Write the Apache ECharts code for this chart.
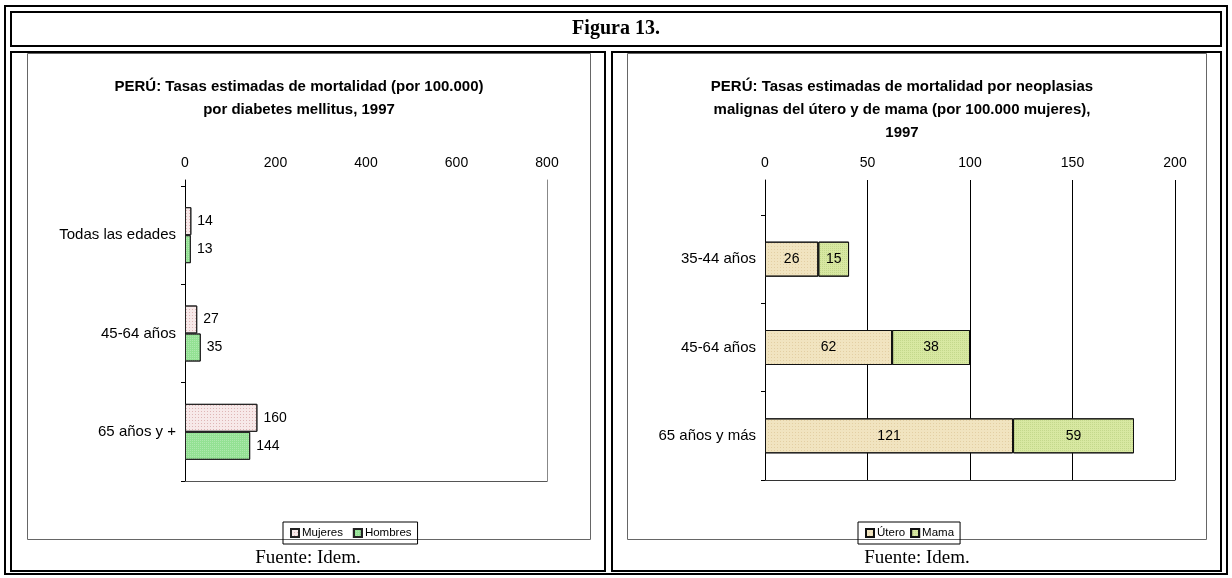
<!DOCTYPE html>
<html>
<head>
<meta charset="utf-8">
<script src="https://cdn.jsdelivr.net/npm/echarts@6/dist/echarts.min.js"></script>
<style>
  html, body { margin: 0; padding: 0; background: #fff; }
  #fig { width: 1232px; height: 578px; }
</style>
</head>
<body>
<div id="fig"></div>
<script>
// Diabetes mellitus mortality by age group (per 100,000)
const diabCategories = ['Todas las edades', '45-64 años', '65 años y +'];
const mujeres = [14, 27, 160];
const hombres = [13, 35, 144];
const diabTicks = [0, 200, 400, 600, 800];

// Uterine and breast cancer mortality by age group (per 100,000 women)
const cancerCategories = ['35-44 años', '45-64 años', '65 años y más'];
const utero = [26, 62, 121];
const mama = [15, 38, 59];
const cancerTicks = [0, 50, 100, 150, 200];

const SANS = '"Liberation Sans", Arial, sans-serif';
const SERIF = '"Liberation Serif", "Times New Roman", serif';
const num = { fontFamily: SANS, fontSize: 14, color: '#000' };
const cat = { fontFamily: SANS, fontSize: 15, color: '#000' };

const chart = echarts.init(document.getElementById('fig'), null, { renderer: 'canvas' });

function tickRange(ticks) {
  return { min: ticks[0], max: ticks[ticks.length - 1], interval: ticks[1] - ticks[0] };
}

const H = 578, W = 1232;
// plot rectangles: x extent, top of axis frame, top of bar band area, bottom
const L = { x0: 185, x1: 547, lineTop: 180, barTop: 186, bottom: 481 };
const R = { x0: 765, x1: 1175, lineTop: 180, barTop: 215, bottom: 480 };

function gridOf(p, top) {
  return { left: p.x0, right: W - p.x1, top: top, bottom: H - p.bottom, containLabel: false };
}

const titleStyle = { fontFamily: SANS, fontWeight: 'bold', fontSize: 15, lineHeight: 23, color: '#000' };
const footStyle = { fontFamily: SERIF, fontWeight: 'normal', fontSize: 19, color: '#000' };

function legendOf(names, left, gap) {
  return {
    data: names, left: left, top: 522, orient: 'horizontal',
    borderColor: '#000', borderWidth: 1, padding: [5, 6, 5, 7], itemGap: gap,
    itemWidth: 8, itemHeight: 8, icon: 'rect',
    textStyle: { fontFamily: SANS, fontSize: 11.5, color: '#000', padding: [0, 0, 0, -2] }
  };
}

const option = {
  animation: false,
  backgroundColor: '#fff',
  title: [
    { text: 'Figura 13.', left: 616, top: 19, textAlign: 'center', padding: 0,
      textStyle: { fontFamily: SERIF, fontWeight: 'bold', fontSize: 20, color: '#000' } },
    { text: 'PERÚ: Tasas estimadas de mortalidad (por 100.000)\npor diabetes mellitus, 1997',
      left: 299, top: 75, textAlign: 'center', padding: 0, textStyle: titleStyle },
    { text: 'PERÚ: Tasas estimadas de mortalidad por neoplasias\nmalignas del útero y de mama (por 100.000 mujeres),\n1997',
      left: 902, top: 75, textAlign: 'center', padding: 0, textStyle: titleStyle },
    { text: 'Fuente: Idem.', left: 308, top: 549, textAlign: 'center', padding: 0, textStyle: footStyle },
    { text: 'Fuente: Idem.', left: 917, top: 549, textAlign: 'center', padding: 0, textStyle: footStyle }
  ],
  legend: [
    legendOf(['Mujeres', 'Hombres'], 283, 10),
    legendOf(['Útero', 'Mama'], 858, 5)
  ],
  grid: [
    gridOf(L, L.lineTop),   // 0: diabetes axis frame
    gridOf(L, L.barTop),    // 1: diabetes bars
    gridOf(R, R.lineTop),   // 2: cancer axis frame + gridlines
    gridOf(R, R.barTop)     // 3: cancer bars
  ],
  xAxis: [
    Object.assign({ gridIndex: 0, type: 'value', position: 'top',
      axisLine: { show: false }, axisTick: { show: false },
      axisLabel: Object.assign({ margin: 10 }, num), splitLine: { show: false } }, tickRange(diabTicks)),
    Object.assign({ gridIndex: 0, type: 'value', position: 'bottom',
      axisLine: { show: true, onZero: false, lineStyle: { color: '#555', width: 1 } }, axisTick: { show: false },
      axisLabel: { show: false }, splitLine: { show: false } }, tickRange(diabTicks)),
    Object.assign({ gridIndex: 1, type: 'value', show: false }, tickRange(diabTicks)),
    Object.assign({ gridIndex: 2, type: 'value', position: 'top',
      axisLine: { show: false }, axisTick: { show: false },
      axisLabel: Object.assign({ margin: 10 }, num),
      splitLine: { show: true, lineStyle: { color: '#000', width: 1 } } }, tickRange(cancerTicks)),
    Object.assign({ gridIndex: 2, type: 'value', position: 'bottom',
      axisLine: { show: true, onZero: false, lineStyle: { color: '#333', width: 1 } }, axisTick: { show: false },
      axisLabel: { show: false }, splitLine: { show: false } }, tickRange(cancerTicks)),
    Object.assign({ gridIndex: 3, type: 'value', show: false }, tickRange(cancerTicks))
  ],
  yAxis: [
    { gridIndex: 0, type: 'value', position: 'left', min: 0, max: 1,
      axisLine: { show: true, onZero: false, lineStyle: { color: '#000', width: 1 } },
      axisTick: { show: false }, axisLabel: { show: false }, splitLine: { show: false } },
    { gridIndex: 0, type: 'value', position: 'right', min: 0, max: 1,
      axisLine: { show: true, onZero: false, lineStyle: { color: '#888', width: 1 } },
      axisTick: { show: false }, axisLabel: { show: false }, splitLine: { show: false } },
    { gridIndex: 1, type: 'category', data: diabCategories, inverse: true,
      axisLine: { show: true, lineStyle: { color: '#000', width: 1 } },
      axisTick: { show: true, length: 4, inside: false, lineStyle: { color: '#000' } },
      axisLabel: Object.assign({ margin: 9 }, cat) },
    { gridIndex: 2, type: 'value', position: 'left', min: 0, max: 1,
      axisLine: { show: true, onZero: false, lineStyle: { color: '#000', width: 1 } },
      axisTick: { show: false }, axisLabel: { show: false }, splitLine: { show: false } },
    { gridIndex: 3, type: 'category', data: cancerCategories, inverse: true,
      axisLine: { show: true, lineStyle: { color: '#000', width: 1 } },
      axisTick: { show: true, length: 4, inside: false, lineStyle: { color: '#000' } },
      axisLabel: Object.assign({ margin: 9 }, cat) }
  ],
  series: [
    { name: 'Mujeres', type: 'bar', xAxisIndex: 2, yAxisIndex: 2, data: mujeres,
      barWidth: 28, barGap: '0%',
      itemStyle: { color: '#f7e9e9', borderColor: '#222', borderWidth: 1,
        decal: { symbol: 'rect', symbolSize: 1, dashArrayX: [1, 2], dashArrayY: [1, 2], color: 'rgba(190,120,120,0.45)' } },
      label: Object.assign({ show: true, position: 'right', distance: 6 }, num) },
    { name: 'Hombres', type: 'bar', xAxisIndex: 2, yAxisIndex: 2, data: hombres,
      barWidth: 28, barGap: '0%',
      itemStyle: { color: '#93e193', borderColor: '#222', borderWidth: 1,
        decal: { symbol: 'rect', symbolSize: 1, dashArrayX: [1, 1], dashArrayY: [1, 1], color: 'rgba(255,255,255,0.25)' } },
      label: Object.assign({ show: true, position: 'right', distance: 6 }, num) },
    { name: 'Útero', type: 'bar', xAxisIndex: 5, yAxisIndex: 4, data: utero, stack: 'c',
      barWidth: 35,
      itemStyle: { color: '#f1e4c0', borderColor: '#111', borderWidth: 1,
        decal: { symbol: 'rect', symbolSize: 1, dashArrayX: [1, 2], dashArrayY: [1, 2], color: 'rgba(200,170,110,0.35)' } },
      label: Object.assign({ show: true, position: 'inside' }, num) },
    { name: 'Mama', type: 'bar', xAxisIndex: 5, yAxisIndex: 4, data: mama, stack: 'c',
      barWidth: 35,
      itemStyle: { color: '#d8e8a2', borderColor: '#111', borderWidth: 1,
        decal: { symbol: 'rect', symbolSize: 1, dashArrayX: [1, 1], dashArrayY: [1, 1], color: 'rgba(150,180,90,0.3)' } },
      label: Object.assign({ show: true, position: 'inside' }, num) }
  ],
  graphic: [
    // outer table border and cells
    { type: 'rect', silent: true, shape: { x: 5, y: 6, width: 1222, height: 568 },
      style: { fill: 'none', stroke: '#000', lineWidth: 2 } },
    { type: 'rect', silent: true, shape: { x: 11, y: 12, width: 1210, height: 34 },
      style: { fill: 'none', stroke: '#000', lineWidth: 2 } },
    { type: 'rect', silent: true, shape: { x: 11, y: 52, width: 594, height: 519 },
      style: { fill: 'none', stroke: '#000', lineWidth: 2 } },
    { type: 'rect', silent: true, shape: { x: 612, y: 52, width: 609, height: 519 },
      style: { fill: 'none', stroke: '#000', lineWidth: 2 } },
    // chart area frames
    { type: 'rect', silent: true, shape: { x: 27.5, y: 53.5, width: 563, height: 486 },
      style: { fill: 'none', stroke: '#666', lineWidth: 1 } },
    { type: 'rect', silent: true, shape: { x: 627.5, y: 53.5, width: 579, height: 486 },
      style: { fill: 'none', stroke: '#666', lineWidth: 1 } }
  ]
};

chart.setOption(option);
</script>
</body>
</html>
